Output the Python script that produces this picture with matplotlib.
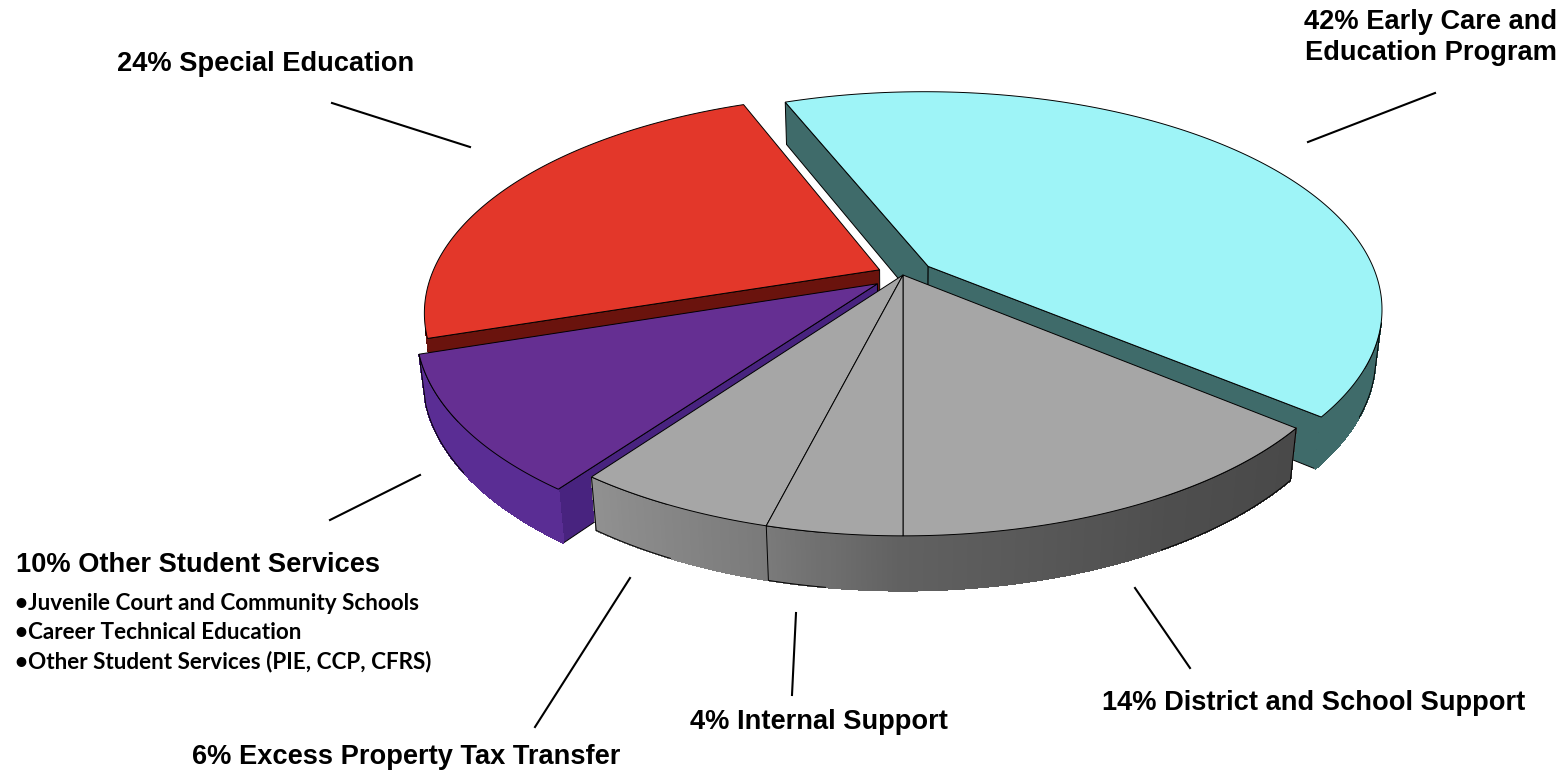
import numpy as np
import matplotlib
matplotlib.use("Agg")
import matplotlib.pyplot as plt
from matplotlib.patches import Polygon

# slices, counter-clockwise starting from the front (270 deg)
categories = ["District and School Support", "Early Care and Education Program",
              "Special Education", "Other Student Services",
              "Excess Property Tax Transfer", "Internal Support"]
shares = [14, 42, 24, 10, 6, 4]
explode = [0.0, 0.07, 0.058, 0.07, 0.0, 0.0]
top_colors = ["#a6a6a6", "#9ef4f7", "#e3372a", "#652f92", "#a6a6a6", "#a6a6a6"]
side_colors = ["#9c9c9c", "#3f6b6a", "#6a130d", "#5a2d94", "#9c9c9c", "#9c9c9c"]
side_shaded = [True, False, False, False, True, True]
cut_colors = ["#5a5a5a", "#3f6b6a", "#6a130d", "#48237f", "#7a7a7a", "#6a6a6a"]

bullets = ["Juvenile Court and Community Schools", "Career Technical Education",
           "Other Student Services (PIE, CCP, CFRS)"]

# camera / projection (pixel space)
D, F = 4.6, 2031.0
FX = F * 1.015
sphi = 0.478
cphi = np.sqrt(1 - sphi ** 2)
cx, cy = 903.0, 275.0
thick = 0.125
eye = np.array([0.0, -D * cphi, D * sphi])


def proj(x, y, z):
    depth = D + y * cphi - z * sphi
    return cx + FX * x / depth, cy - F * (y * sphi + z * cphi) / depth


def depth_of(pts):
    p = np.mean(pts, axis=0)
    return D + p[1] * cphi - p[2] * sphi


def shade(theta):
    t = np.mod(theta, 360)
    return np.interp(t, [180, 234, 256, 270, 300, 346, 360],
                     [1.0, 0.93, 0.78, 0.62, 0.5, 0.42, 0.42])


def scale_col(c, f):
    rgb = np.array(matplotlib.colors.to_rgb(c))
    return tuple(np.clip(rgb * f, 0, 1))


fig = plt.figure(figsize=(15.63, 7.74), dpi=100)
ax = fig.add_axes([0, 0, 1, 1])
ax.set_xlim(0, 1563)
ax.set_ylim(774, 0)
ax.axis("off")

sides = []      # (depth, verts3d, facecolor, outline)
tops = []
start = 270.0
for i, v in enumerate(shares):
    t0, t1 = start, start + v * 3.6
    start = t1
    mid = np.radians((t0 + t1) / 2)
    ox, oy = explode[i] * np.cos(mid), explode[i] * np.sin(mid)
    th = np.linspace(t0, t1, max(int((t1 - t0) * 2), 8))
    r = np.radians(th)
    rim = np.column_stack([ox + np.cos(r), oy + np.sin(r)])
    tops.append((np.vstack([[ox, oy], rim]), top_colors[i]))

    # outer side, visible strips only
    vis = np.cos(r) * (-ox) + np.sin(r) * (eye[1] - oy) - 1 > 0
    seg = []
    for k in range(len(th) - 1):
        if vis[k] and vis[k + 1]:
            a, b = rim[k], rim[k + 1]
            q = np.array([[a[0], a[1], 0], [b[0], b[1], 0],
                          [b[0], b[1], -thick], [a[0], a[1], -thick]])
            f = shade((th[k] + th[k + 1]) / 2) if side_shaded[i] else 1.0
            sides.append((depth_of(q), q, scale_col(side_colors[i], f), None))
            seg.append(k)
    if seg:
        k0, k1 = seg[0], seg[-1] + 1
        up = np.column_stack([rim[k0:k1 + 1], np.zeros(k1 - k0 + 1)])
        dn = up.copy()
        dn[:, 2] = -thick
        outline = np.vstack([up, dn[::-1]])
        sides.append((depth_of(outline) - 1e-3, outline, "none", "k"))

    # radial cut faces
    o = np.array([ox, oy, 0.0])
    for ang, sgn in ((t0, 1), (t1, -1)):
        a = np.radians(ang)
        n = sgn * np.array([np.sin(a), -np.cos(a), 0.0])
        if np.dot(n, eye - o) > 0:
            p = o + np.array([np.cos(a), np.sin(a), 0.0])
            q = np.array([o, p, p - [0, 0, thick], o - [0, 0, thick]])
            sides.append((depth_of(q), q, cut_colors[i], "k"))

sides.sort(key=lambda s: -s[0])
for z, (d, q, fc, ec) in enumerate(sides):
    xs, ys = proj(q[:, 0], q[:, 1], q[:, 2])
    if ec is None:
        ax.add_patch(Polygon(np.column_stack([xs, ys]), closed=True, facecolor=fc,
                             edgecolor=fc, linewidth=0.6, antialiased=False,
                             zorder=2 + z * 0.01))
    else:
        ax.add_patch(Polygon(np.column_stack([xs, ys]), closed=True, facecolor=fc,
                             edgecolor=ec, linewidth=0.7, zorder=2 + z * 0.01))

for pts, fc in tops:
    xs, ys = proj(pts[:, 0], pts[:, 1], 0)
    ax.add_patch(Polygon(np.column_stack([xs, ys]), closed=True, facecolor=fc,
                         edgecolor="k", linewidth=0.7, zorder=20))

# leader lines
leaders = [((1190, 1135), (668, 588)), ((1308, 1435), (142, 93)),
           ((332, 470), (103, 147)), ((330, 420), (520, 475)),
           ((535, 630), (727, 578)), ((792, 796), (695, 613))]
for lx, ly in leaders:
    ax.plot(lx, ly, color="black", lw=1.5, zorder=30)

main = dict(fontfamily="Liberation Sans", fontweight="bold", fontsize=19.6,
            color="black", va="center")
ax.text(1102, 703, f"{shares[0]}% {categories[0]}", ha="left", **main)
ax.text(1557, 22, f"{shares[1]}% Early Care and", ha="right", **main)
ax.text(1557, 53, "Education Program", ha="right", **main)
ax.text(117, 64, f"{shares[2]}% {categories[2]}", ha="left", **main)
ax.text(16, 565, f"{shares[3]}% {categories[3]}", ha="left", **main)
ax.text(192, 757, f"{shares[4]}% {categories[4]}", ha="left", **main)
ax.text(690, 722, f"{shares[5]}% {categories[5]}", ha="left", **main)
for j, b in enumerate(bullets):
    ax.text(15, 603 + 29.5 * j, "\u2022" + b, ha="left", va="center",
            fontfamily="Lato", fontweight="bold", fontsize=16.2, color="black")

fig.savefig("out.png", dpi=100)
